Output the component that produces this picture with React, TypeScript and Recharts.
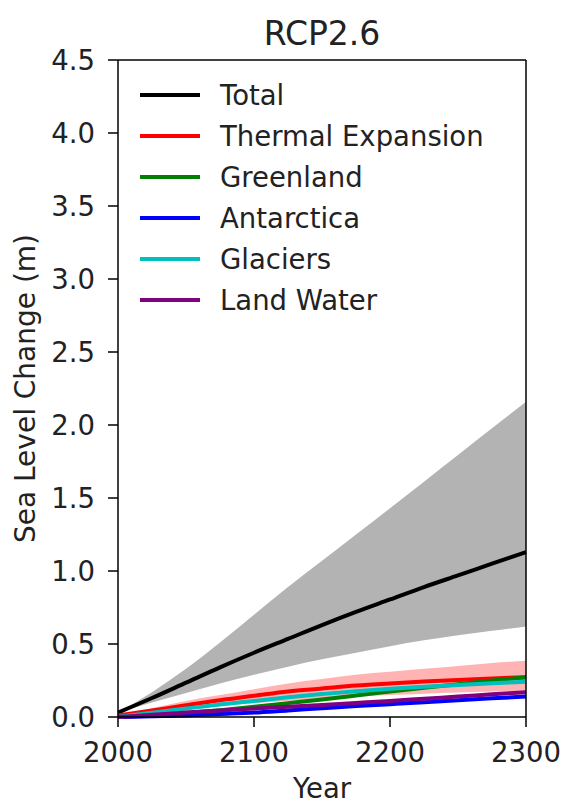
import React from 'react';
import { ComposedChart, Line, Area, XAxis, YAxis, ReferenceLine, Legend } from 'recharts';

// Years sampled every 25 years
const years = [2000, 2025, 2050, 2075, 2100, 2125, 2150, 2175, 2200, 2225, 2250, 2275, 2300];

// Sea level contributions (m)
const total = [0.03, 0.13, 0.235, 0.34, 0.44, 0.535, 0.63, 0.72, 0.805, 0.89, 0.97, 1.05, 1.13];
const totalHi = [0.03, 0.17, 0.33, 0.51, 0.7, 0.89, 1.07, 1.25, 1.43, 1.612, 1.795, 1.978, 2.16];
const totalLo = [0.03, 0.1, 0.165, 0.23, 0.29, 0.345, 0.395, 0.44, 0.485, 0.525, 0.56, 0.59, 0.62];
const thermal = [0.01, 0.045, 0.08, 0.115, 0.145, 0.175, 0.195, 0.215, 0.23, 0.243, 0.254, 0.264, 0.273];
const thermalHi = [0.01, 0.06, 0.11, 0.15, 0.19, 0.23, 0.26, 0.29, 0.31, 0.33, 0.35, 0.37, 0.385];
const thermalLo = [0.01, 0.03, 0.05, 0.075, 0.095, 0.11, 0.125, 0.138, 0.15, 0.16, 0.168, 0.175, 0.18];
const greenland = [0.0, 0.012, 0.028, 0.047, 0.07, 0.095, 0.12, 0.147, 0.175, 0.2, 0.225, 0.25, 0.272];
const antarctica = [0.0, 0.005, 0.01, 0.02, 0.03, 0.045, 0.06, 0.075, 0.088, 0.101, 0.115, 0.128, 0.14];
const glaciers = [0.0, 0.03, 0.058, 0.085, 0.11, 0.135, 0.157, 0.177, 0.193, 0.207, 0.22, 0.231, 0.242];
const landWater = [0.0, 0.015, 0.03, 0.045, 0.058, 0.07, 0.082, 0.096, 0.11, 0.125, 0.14, 0.155, 0.17];

const xTicks = [2000, 2100, 2200, 2300];
const yTicks = [0, 0.5, 1, 1.5, 2, 2.5, 3, 3.5, 4, 4.5];

const series = [
  { key: 'total', name: 'Total', color: '#000000' },
  { key: 'thermal', name: 'Thermal Expansion', color: '#ff0000' },
  { key: 'greenland', name: 'Greenland', color: '#008000' },
  { key: 'antarctica', name: 'Antarctica', color: '#0000ff' },
  { key: 'glaciers', name: 'Glaciers', color: '#00bfbf' },
  { key: 'landWater', name: 'Land Water', color: '#800080' },
];

const data = years.map((year, i) => ({
  year,
  total: total[i],
  totalBand: [totalLo[i], totalHi[i]],
  thermal: thermal[i],
  thermalBand: [thermalLo[i], thermalHi[i]],
  greenland: greenland[i],
  antarctica: antarctica[i],
  glaciers: glaciers[i],
  landWater: landWater[i],
}));

const font = '"DejaVu Sans", sans-serif';
const textColor = '#222';
const fontSize = 27.5;

const renderLegend = () => (
  <div style={{ fontFamily: font, fontSize, color: textColor }}>
    {series.map((s) => (
      <div key={s.key} style={{ display: 'flex', alignItems: 'center', height: 41 }}>
        <span style={{ display: 'inline-block', width: 60, height: 4, background: s.color, marginRight: 20 }} />
        <span>{s.name}</span>
      </div>
    ))}
  </div>
);

const App: React.FC = () => {
  return (
    <div style={{ position: 'absolute', left: 0, top: 0, width: 563, height: 803, fontFamily: font }}>
      <ComposedChart width={563} height={803} data={data} margin={{ top: 60, right: 27, bottom: 1, left: 0 }}>
        <XAxis
          dataKey="year"
          type="number"
          domain={[2000, 2300]}
          ticks={xTicks}
          height={85}
          tickSize={10}
          tickMargin={15}
          stroke="#000"
          strokeWidth={1.5}
          tick={{ fill: textColor, fontSize, fontFamily: font }}
          label={{ value: 'Year', position: 'insideBottom', offset: 4, fill: textColor, fontSize, fontFamily: font }}
        />
        <YAxis
          yAxisId="left"
          domain={[0, 4.5]}
          ticks={yTicks}
          width={118}
          tickSize={10}
          tickMargin={13}
          stroke="#000"
          strokeWidth={1.5}
          tickFormatter={(v: number) => v.toFixed(1)}
          tick={{ fill: textColor, fontSize, fontFamily: font }}
          label={{
            value: 'Sea Level Change (m)',
            angle: -90,
            position: 'insideLeft',
            offset: 25,
            fill: textColor,
            fontSize: 28,
            fontFamily: font,
            style: { textAnchor: 'middle' },
          }}
        />
        <YAxis
          yAxisId="right"
          orientation="right"
          domain={[0, 4.5]}
          ticks={yTicks}
          width={10}
          tickSize={10}
          stroke="#000"
          strokeWidth={1.5}
          tick={false}
        />
        <ReferenceLine
          yAxisId="left"
          y={4.5}
          stroke="#000"
          strokeWidth={1.5}
          label={{ value: 'RCP2.6', position: 'top', offset: 15, fill: textColor, fontSize: 33, fontFamily: font }}
        />
        <Legend
          content={renderLegend}
          layout="vertical"
          align="center"
          verticalAlign="middle"
          wrapperStyle={{ left: 140, top: 74 }}
        />
        <Area yAxisId="left" type="monotone" dataKey="totalBand" fill="#b3b3b3" fillOpacity={1} stroke="none" isAnimationActive={false} legendType="none" />
        <Area yAxisId="left" type="monotone" dataKey="thermalBand" fill="#ffb3b3" fillOpacity={1} stroke="none" isAnimationActive={false} legendType="none" />
        {series.map((s) => (
          <Line
            key={s.key}
            yAxisId="left"
            type="monotone"
            dataKey={s.key}
            name={s.name}
            stroke={s.color}
            strokeWidth={4}
            dot={false}
            isAnimationActive={false}
          />
        ))}
      </ComposedChart>
    </div>
  );
};

export default App;
